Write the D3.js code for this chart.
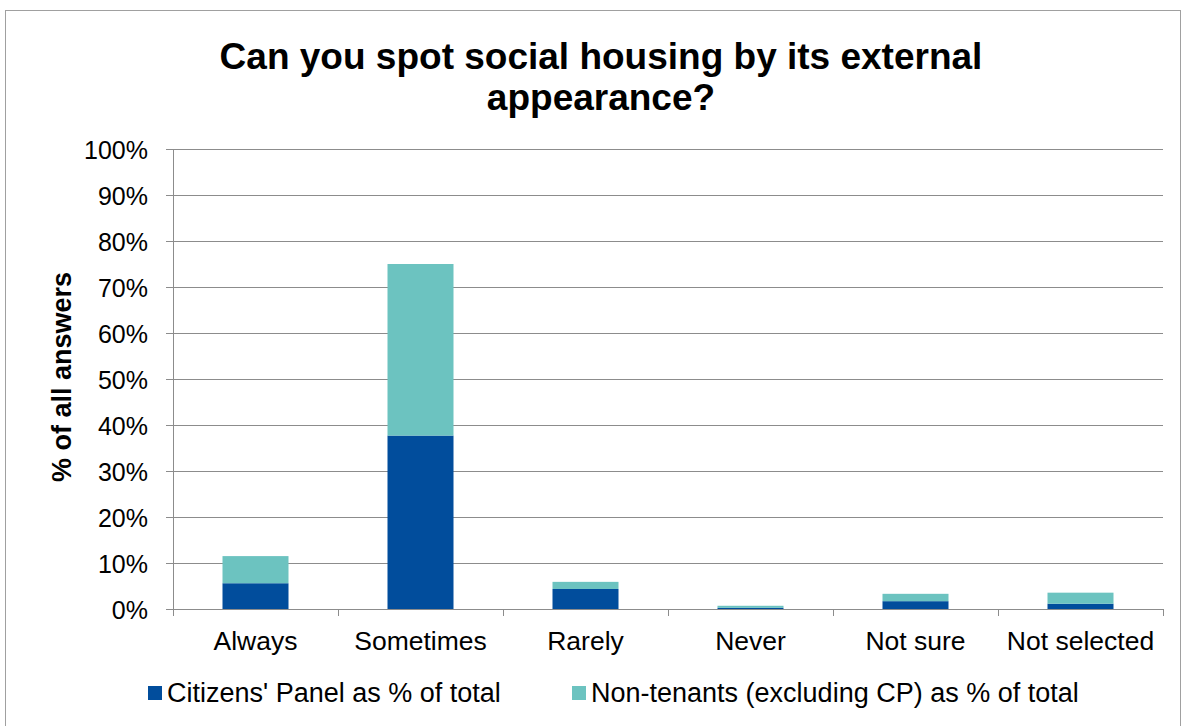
<!DOCTYPE html>
<html>
<head>
<meta charset="utf-8">
<script src="https://cdn.jsdelivr.net/npm/d3@7"></script>
<style>
  body { margin: 0; background: #fff; }
  svg text { font-family: "Liberation Sans", Arial, sans-serif; fill: #000; }
</style>
</head>
<body>
<div id="chart"></div>
<script>
// Data
const categories = ["Always", "Sometimes", "Rarely", "Never", "Not sure", "Not selected"];
const citizensPanel = [5.6, 37.7, 4.35, 0.25, 1.7, 1.15];
const nonTenants = [5.9, 37.3, 1.55, 0.45, 1.6, 2.4];
const seriesNames = ["Citizens' Panel as % of total", "Non-tenants (excluding CP) as % of total"];
const seriesColors = ["#014d9c", "#6cc3c0"];
const yTicks = [0, 10, 20, 30, 40, 50, 60, 70, 80, 90, 100];

const W = 1181, H = 726;
const margin = { top: 149, right: 18, bottom: 117, left: 173 };
const width = W - margin.left - margin.right,
    height = H - margin.top - margin.bottom;

const svg = d3.select("#chart")
    .append("svg")
    .attr("width", W)
    .attr("height", H);

// chart border
svg.append("rect")
    .attr("x", 5.5).attr("y", 10.5)
    .attr("width", W - 6).attr("height", H)
    .attr("fill", "none")
    .attr("stroke", "#a0a0a0")
    .attr("stroke-width", 1);

// Title
const title = svg.append("text")
    .attr("text-anchor", "middle")
    .style("font-size", "37px")
    .style("font-weight", "bold");
title.append("tspan").attr("x", 601).attr("y", 69).text("Can you spot social housing by its external");
title.append("tspan").attr("x", 601).attr("y", 110).text("appearance?");

const g = svg.append("g")
    .attr("transform", `translate(${margin.left},${margin.top})`);

const table = categories.map((c, i) => ({ cat: c, cp: citizensPanel[i], nt: nonTenants[i] }));
const stack = d3.stack().keys(["cp", "nt"])(table);

const xScale = d3.scaleBand().domain(categories).range([0, width]).paddingInner(0.6).paddingOuter(0.3);
const xAxisScale = d3.scaleBand().domain(categories).range([0, width]);
const yScale = d3.scaleLinear().domain([0, 100]).range([height, 0]);

// Gridlines
g.append("g")
    .selectAll("line")
    .data(yTicks.slice(1))
    .join("line")
    .attr("x1", 0).attr("x2", width)
    .attr("y1", d => Math.round(yScale(d)) + 0.5)
    .attr("y2", d => Math.round(yScale(d)) + 0.5)
    .attr("stroke", "#8c8c8c");

// Bars
g.selectAll("g.series")
    .data(stack)
    .join("g")
    .attr("class", "series")
    .attr("fill", (d, i) => seriesColors[i])
    .selectAll("rect")
    .data(d => d)
    .join("rect")
    .attr("x", d => xScale(d.data.cat))
    .attr("width", xScale.bandwidth())
    .attr("y", d => yScale(d[1]))
    .attr("height", d => yScale(d[0]) - yScale(d[1]));

// Y axis
const yAxis = g.append("g")
    .call(d3.axisLeft(yScale).tickValues(yTicks).tickFormat(d => d + "%").tickSize(7).tickPadding(18));
yAxis.selectAll("text").style("font-size", "25px").attr("dy", "0.36em");
yAxis.select(".domain").attr("stroke", "#8c8c8c").attr("d", `M0.5,0V${height}`);
yAxis.selectAll(".tick line").attr("stroke", "#8c8c8c");

// X axis
const xAxis = g.append("g")
    .attr("transform", `translate(0,${height})`)
    .call(d3.axisBottom(xAxisScale).tickSize(0).tickPadding(22));
xAxis.selectAll("text").style("font-size", "26.5px");
xAxis.select(".domain").attr("stroke", "#8c8c8c").attr("d", `M0,0.5H${width}`);
xAxis.append("g")
    .selectAll("line")
    .data(d3.range(categories.length + 1))
    .join("line")
    .attr("x1", i => Math.round(i * xAxisScale.step()) + 0.5)
    .attr("x2", i => Math.round(i * xAxisScale.step()) + 0.5)
    .attr("y1", 0).attr("y2", 7)
    .attr("stroke", "#8c8c8c");

// Y axis title
svg.append("text")
    .attr("transform", `translate(71,377) rotate(-90)`)
    .attr("text-anchor", "middle")
    .style("font-size", "27px")
    .style("font-weight", "bold")
    .text("% of all answers");

// Legend
const legendX = [148, 572];
const legend = svg.append("g");
seriesNames.forEach((name, i) => {
    legend.append("rect")
        .attr("x", legendX[i]).attr("y", 686)
        .attr("width", 14).attr("height", 14)
        .attr("fill", seriesColors[i]);
    legend.append("text")
        .attr("x", legendX[i] + 19).attr("y", 702)
        .style("font-size", "27px")
        .text(name);
});
</script>
</body>
</html>
